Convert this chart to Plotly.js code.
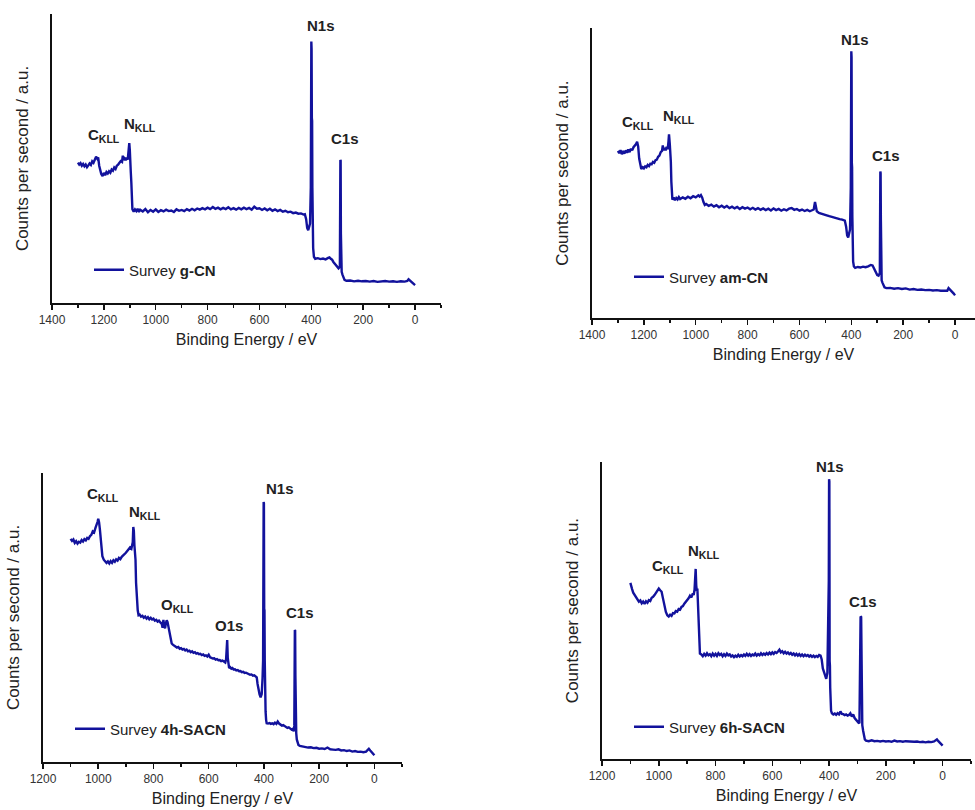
<!DOCTYPE html>
<html>
<head>
<meta charset="utf-8">
<script src="https://cdn.plot.ly/plotly-3.0.1.min.js"></script>
<style>html,body{margin:0;padding:0;background:#fff;}#chart{width:975px;height:810px;}</style>
</head>
<body>
<div id="chart"></div>
<script>
// ---------- DATA ----------
const sampleNames = ["g-CN", "am-CN", "4h-SACN", "6h-SACN"];

const gcnEnergy = [1300,1295,1290,1285,1280,1275,1270,1265,1260,1255,1250,1245,1240,1235,1230,1225,1222,1218,1214,1210,1205,1200,1195,1190,1185,1180,1175,1170,1165,1160,1155,1150,1145,1140,1135,1130,1127,1124,1120,1116,1112,1108,1104,1102,1100,1098,1096,1094,1092,1090,1085,1080,1075,1070,1065,1060,1050,1040,1030,1020,1010,1000,990,980,970,960,950,940,930,920,910,900,890,880,870,860,850,840,830,820,810,800,790,780,770,760,750,740,730,720,710,700,690,680,670,660,650,640,630,620,610,600,590,580,570,560,550,540,530,520,510,500,490,480,470,460,450,440,430,425,420,416,412,408,405,402,400,399,398,397,396,395,393,390,385,375,365,355,345,335,330,325,320,315,310,305,300,295,290,289,288,287,286,285,283,280,276,272,265,250,235,220,205,190,175,160,145,130,115,100,85,70,55,40,30,25,20,15,10,5,0];
const gcnCounts = [48.6,47.9,48.4,47.5,48.1,47.3,47.9,47.0,47.6,48.3,47.8,49.0,48.5,49.8,50.6,49.9,50.4,47.5,45.2,44.6,43.9,45.0,44.2,45.3,44.8,45.6,45.1,46.2,45.8,46.9,46.4,47.5,47.9,48.6,49.1,48.8,51.0,49.5,50.0,49.4,50.3,49.6,52.5,55.3,53.0,50.5,45.0,41.5,35.0,32.5,31.6,32.4,31.8,32.6,31.5,32.3,31.7,32.5,31.4,32.2,31.6,32.4,31.5,32.1,31.7,32.3,31.8,32.0,31.5,32.4,31.9,32.2,31.8,32.5,32.0,32.6,32.1,32.7,32.3,32.8,32.4,33.0,32.5,33.2,32.6,33.0,32.4,32.9,32.5,33.1,32.4,32.8,32.3,32.9,32.4,33.0,32.5,32.9,32.3,33.3,32.6,32.8,32.2,32.7,32.1,32.6,31.9,32.4,31.8,32.2,31.6,31.9,31.4,31.6,31.1,31.3,30.9,31.0,30.6,30.7,29.0,26.0,25.2,26.5,27.5,40.0,90.5,88.0,64.0,63.0,40.0,21.0,19.0,16.0,15.3,15.5,15.2,15.4,15.1,15.6,15.8,15.3,15.0,14.2,13.6,13.0,12.4,12.0,12.5,24.0,49.5,49.3,24.0,12.0,10.8,9.8,8.8,8.0,7.7,7.8,7.5,7.7,7.5,7.6,7.4,7.6,7.3,7.5,7.6,7.4,7.5,7.3,7.5,7.4,7.6,8.2,7.8,7.4,7.0,6.8,6.2];

const amcnEnergy = [1300,1295,1290,1285,1280,1275,1270,1265,1260,1255,1250,1245,1240,1235,1230,1226,1222,1218,1214,1210,1205,1200,1195,1190,1185,1180,1175,1170,1165,1160,1155,1150,1145,1140,1135,1130,1127,1124,1120,1116,1112,1108,1105,1103,1100,1098,1096,1094,1092,1090,1085,1080,1075,1070,1065,1060,1050,1040,1030,1020,1010,1000,990,985,980,975,970,965,960,950,940,930,920,910,900,890,880,870,860,850,840,830,820,810,800,790,780,770,760,750,740,730,720,710,700,690,680,670,660,650,640,630,620,610,600,590,580,570,560,550,545,540,537,533,525,515,505,495,485,475,465,455,445,435,425,420,416,412,408,405,402,400,399,398,397,396,395,393,390,385,375,365,355,345,335,325,318,312,306,300,295,290,289,288,287,286,285,283,280,276,272,265,250,235,220,205,190,175,160,145,130,115,100,85,70,55,40,30,25,20,15,10,5,0];
const amcnCounts = [57.6,56.8,57.9,56.5,57.3,56.7,57.8,57.0,58.1,57.2,58.4,57.8,58.9,59.4,60.0,60.8,59.2,55.0,52.5,51.4,52.0,51.6,52.3,52.0,52.8,52.4,53.2,53.0,53.8,53.5,54.4,54.6,55.6,56.0,57.2,57.6,59.5,57.8,58.6,57.8,59.0,58.2,61.0,63.3,60.0,58.0,54.0,47.0,42.0,40.8,41.5,40.6,41.4,40.9,41.7,41.0,41.6,41.1,41.8,41.3,42.0,41.6,42.3,41.9,42.4,41.5,40.0,39.0,39.3,38.7,39.1,38.4,38.9,38.2,38.7,38.1,38.6,37.9,38.4,37.8,38.3,37.6,38.2,37.7,38.1,37.5,38.0,37.4,37.9,37.3,37.8,37.2,37.7,37.1,37.8,37.2,37.6,37.0,37.5,37.1,37.7,37.9,37.3,37.6,37.0,37.4,36.9,37.3,36.8,37.1,37.4,40.0,38.0,36.8,36.2,36.0,35.6,35.4,35.1,34.8,34.5,34.4,34.1,33.9,33.6,31.5,28.5,27.8,29.0,30.5,45.0,92.0,90.0,53.5,52.0,35.0,22.5,19.5,17.8,17.3,17.6,17.4,17.7,17.5,17.8,18.3,18.1,16.8,15.6,14.8,14.6,15.5,34.0,50.5,50.0,34.0,14.0,13.0,12.2,11.2,10.6,10.3,10.4,10.1,10.3,10.0,10.2,9.8,10.0,9.7,9.8,9.6,9.7,9.5,9.6,9.4,9.5,9.4,10.3,9.9,9.3,8.8,8.4,7.8];

const sacn4Energy = [1100,1095,1090,1085,1080,1075,1070,1065,1060,1055,1050,1045,1040,1035,1030,1025,1020,1015,1010,1005,1002,1000,997,994,991,988,985,980,975,970,965,960,955,950,945,940,935,930,925,920,915,910,905,900,895,890,885,880,877,875,873,871,869,867,865,863,861,859,857,854,850,845,840,835,830,825,820,815,810,805,800,795,790,785,780,775,770,767,764,761,758,755,752,749,746,743,740,737,734,730,725,720,715,710,705,700,695,690,685,680,675,670,665,660,655,650,645,640,635,630,625,620,615,610,605,600,595,590,585,580,575,570,565,560,555,550,545,540,537,535,533,531,529,526,522,518,514,510,505,500,495,490,485,480,475,470,465,460,455,450,445,440,435,430,426,423,420,416,412,408,405,403,401,400,399,398,397,396,394,392,390,385,380,375,370,365,360,355,350,345,340,335,330,325,320,315,310,305,300,295,292,290,289,288,287,286,285,283,281,278,275,270,260,250,240,230,220,210,200,190,180,170,160,150,140,130,120,110,100,90,80,70,60,50,40,30,25,20,15,10,5,0];
const sacn4Counts = [77.2,76.5,77.0,75.8,76.4,75.6,76.2,75.9,76.8,76.3,77.1,76.7,77.5,77.2,78.1,78.6,79.8,79.4,81.0,82.2,83.2,84.2,83.0,80.5,78.0,74.0,71.2,70.0,69.2,68.9,69.4,68.7,69.5,68.9,69.8,69.3,70.1,69.7,70.6,70.2,71.0,71.4,72.0,72.4,73.0,73.5,74.2,73.8,75.5,76.0,81.3,80.0,75.0,73.0,70.0,62.0,57.0,55.5,52.5,50.8,51.0,50.3,50.6,49.9,50.3,49.6,50.1,49.4,49.9,49.3,49.6,48.9,49.2,48.6,48.9,48.3,47.8,46.5,49.2,47.0,46.3,48.0,49.0,48.4,47.0,45.5,44.0,42.0,41.0,40.6,40.2,40.0,39.6,39.8,39.2,39.4,38.9,39.1,38.6,38.9,38.3,38.5,38.0,38.3,37.8,38.0,37.5,37.7,37.3,37.4,37.0,37.2,36.7,36.9,36.5,37.1,36.2,36.0,35.8,35.9,35.4,35.6,35.2,35.3,34.9,35.1,34.6,34.4,35.5,41.5,42.2,36.0,33.0,32.5,32.8,32.3,32.5,32.0,32.1,31.7,31.8,31.4,31.5,31.1,31.2,30.8,30.9,30.6,30.5,30.2,30.3,29.9,30.0,29.6,29.3,27.0,25.0,23.5,22.4,23.5,29.0,35.0,90.0,89.5,53.0,52.5,35.0,21.0,17.5,14.5,13.4,13.3,13.5,13.2,13.4,13.1,13.6,13.2,14.0,13.3,12.9,12.6,12.8,12.4,12.2,11.8,12.0,11.4,11.2,11.5,10.6,12.5,30.0,45.7,45.5,30.0,11.5,10.0,7.8,6.4,5.9,5.6,5.4,5.2,5.0,5.1,4.8,4.9,4.6,4.7,4.5,5.0,4.4,4.3,4.2,4.4,4.0,4.1,3.8,4.0,3.6,3.8,3.5,3.6,3.4,3.6,4.2,4.6,4.0,3.4,2.9,2.3];

const sacn6Energy = [1100,1097,1094,1090,1085,1080,1075,1070,1065,1060,1055,1050,1045,1040,1035,1030,1025,1020,1015,1010,1005,1000,995,990,985,980,975,970,965,960,955,950,945,940,935,930,925,920,915,910,905,900,895,890,885,880,877,874,872,870,868,866,864,862,860,858,855,850,845,840,835,830,825,820,815,810,805,800,795,790,785,780,775,770,765,760,755,750,745,740,735,730,725,720,715,710,705,700,695,690,685,680,675,670,665,660,655,650,645,640,635,630,625,620,615,610,605,600,595,590,585,580,575,570,565,560,555,550,545,540,535,530,525,520,515,510,505,500,495,490,485,480,475,470,465,460,455,450,445,440,435,430,426,422,418,414,410,406,404,403,401,400,399,398,397,396,395,393,390,385,380,375,370,365,360,355,350,345,340,335,330,325,320,315,310,305,300,296,293,291,289,287,285,283,280,277,274,270,260,250,240,230,220,210,200,190,180,170,160,150,140,130,120,110,100,90,80,70,60,50,40,30,25,20,15,10,5,0];
const sacn6Counts = [59.3,57.8,57.2,56.0,55.3,54.2,53.8,53.0,53.4,52.4,53.0,52.2,53.1,52.6,53.5,53.2,54.3,54.6,55.2,55.8,56.6,57.4,56.8,56.3,54.0,51.0,49.5,48.4,48.0,48.6,48.2,49.1,49.0,49.8,49.6,50.5,50.3,51.2,51.5,52.3,52.8,53.6,54.1,55.0,54.4,55.8,55.2,57.0,61.0,64.0,58.5,56.5,57.4,52.0,45.0,39.5,35.5,35.2,34.6,35.4,34.8,35.6,34.9,35.3,34.6,35.5,34.8,35.4,34.7,35.6,35.0,35.4,34.6,35.3,34.7,35.5,34.9,35.2,34.5,34.9,34.3,34.8,34.4,35.1,34.5,35.0,34.6,35.2,34.7,35.4,34.8,35.3,34.7,35.2,34.9,35.5,34.8,35.3,34.9,35.6,35.0,35.5,35.1,35.7,35.2,35.8,35.3,35.9,35.4,36.0,35.7,36.2,36.8,35.9,36.3,35.6,36.1,35.5,35.9,35.3,35.7,35.1,35.5,34.9,35.4,34.8,35.3,34.7,35.2,34.6,35.1,34.7,35.0,34.5,34.9,34.4,34.8,34.3,34.7,34.4,35.0,34.8,33.5,30.5,29.5,28.2,27.0,29.0,40.0,47.3,60.0,94.2,93.5,33.0,31.5,24.0,18.5,16.2,15.4,15.0,15.3,14.9,15.4,15.0,16.0,15.2,15.1,14.8,15.0,14.6,14.8,15.4,14.3,15.0,13.8,13.1,12.5,12.2,12.0,47.9,48.0,47.8,12.6,11.4,9.5,7.5,6.6,6.2,6.0,6.3,6.0,6.1,5.9,6.1,5.9,6.0,5.8,6.2,5.9,6.0,5.8,6.0,5.9,6.0,5.8,5.9,5.7,5.8,5.6,5.8,5.7,5.9,6.3,6.6,6.0,5.5,5.0,4.5];

// peak labels: [text, energy, counts]
const gcnLabels   = [["N1s",364,95.9],["C1s",270,56.9],["C<sub>KLL</sub>",1199,58.1],["N<sub>KLL</sub>",1060,61.6]];
const amcnLabels  = [["N1s",384,96.2],["C1s",266,56.1],["C<sub>KLL</sub>",1222,67.4],["N<sub>KLL</sub>",1064,69.6]];
const sacn4Labels = [["N1s",343,94.8],["C1s",269,51.8],["C<sub>KLL</sub>",981,92.6],["N<sub>KLL</sub>",831,86.4],["O<sub>KLL</sub>",713,54.0],["O1s",528,47.1]];
const sacn6Labels = [["N1s",398,98.4],["C1s",280,53.2],["C<sub>KLL</sub>",968,64.9],["N<sub>KLL</sub>",842,69.9]];

// ---------- STYLE ----------
const FONT = "Liberation Sans, Arial, Helvetica, sans-serif";
const LINE = "#12129c";
const W = 975, H = 810;

const series = [
  {e: gcnEnergy,   c: gcnCounts,   labels: gcnLabels},
  {e: amcnEnergy,  c: amcnCounts,  labels: amcnLabels},
  {e: sacn4Energy, c: sacn4Counts, labels: sacn4Labels},
  {e: sacn6Energy, c: sacn6Counts, labels: sacn6Labels}
];

// panel geometry in pixels: [left, right, top, bottom], x range, legend anchor
const panels = [
  {px:[52, 441, 14, 303],    xr:[1400,-100], leg:[89, 270]},
  {px:[592, 975, 28, 318],   xr:[1400,-77],  leg:[629, 277]},
  {px:[43, 402, 473, 762],   xr:[1200,-100], leg:[70, 729]},
  {px:[602, 971, 462, 759],  xr:[1200,-100], leg:[629, 727]}
];

const traces = [];
const layout = {
  width: W, height: H,
  margin: {l:0, r:0, t:0, b:0},
  paper_bgcolor: "#fff", plot_bgcolor: "#fff",
  font: {family: FONT, color: "#222"},
  annotations: []
};

panels.forEach((p, i) => {
  const n = i === 0 ? "" : String(i + 1);
  const s = series[i];
  traces.push({
    type: "scatter", mode: "lines",
    x: s.e, y: s.c,
    xaxis: "x" + n, yaxis: "y" + n,
    name: "Survey <b>" + sampleNames[i] + "</b>",
    legend: "legend" + n,
    line: {color: LINE, width: 2.4},
    showlegend: true
  });
  layout["xaxis" + n] = {
    domain: [p.px[0] / W, p.px[1] / W],
    anchor: "y" + n,
    range: p.xr, autorange: false,
    showline: true, linewidth: 2, linecolor: "#111",
    ticks: "outside", ticklen: 5, tickwidth: 1.5, tickcolor: "#111",
    tick0: 0, dtick: 200,
    minor: {ticks: "outside", ticklen: 3, tickwidth: 1.5, tickcolor: "#111", tick0: 0, dtick: 100, showgrid: false},
    showgrid: false, zeroline: false,
    tickfont: {family: FONT, size: 12, color: "#333"},
    title: {text: "Binding Energy / eV", font: {family: FONT, size: 16, color: "#222"}, standoff: 7},
    automargin: false
  };
  layout["yaxis" + n] = {
    domain: [1 - p.px[3] / H, 1 - p.px[2] / H],
    anchor: "x" + n,
    range: [0, 100], autorange: false,
    showline: true, linewidth: 2, linecolor: "#111",
    ticks: "", showticklabels: false,
    showgrid: false, zeroline: false,
    title: {text: "Counts per second / a.u.", font: {family: FONT, size: 17, color: "#222"}, standoff: 17},
    automargin: false
  };
  layout["legend" + n] = {
    x: p.leg[0] / W, y: 1 - p.leg[1] / H,
    xref: "paper", yref: "paper",
    xanchor: "left", yanchor: "middle",
    bgcolor: "rgba(0,0,0,0)", borderwidth: 0,
    font: {family: FONT, size: 15, color: "#222"}
  };
  s.labels.forEach(l => {
    layout.annotations.push({
      xref: "x" + n, yref: "y" + n,
      x: l[1], y: l[2],
      text: "<b>" + l[0] + "</b>",
      showarrow: false,
      xanchor: "center", yanchor: "middle",
      font: {family: FONT, size: 15, color: "#222"}
    });
  });
});

Plotly.newPlot("chart", traces, layout, {staticPlot: true, displayModeBar: false});
</script>
</body>
</html>
